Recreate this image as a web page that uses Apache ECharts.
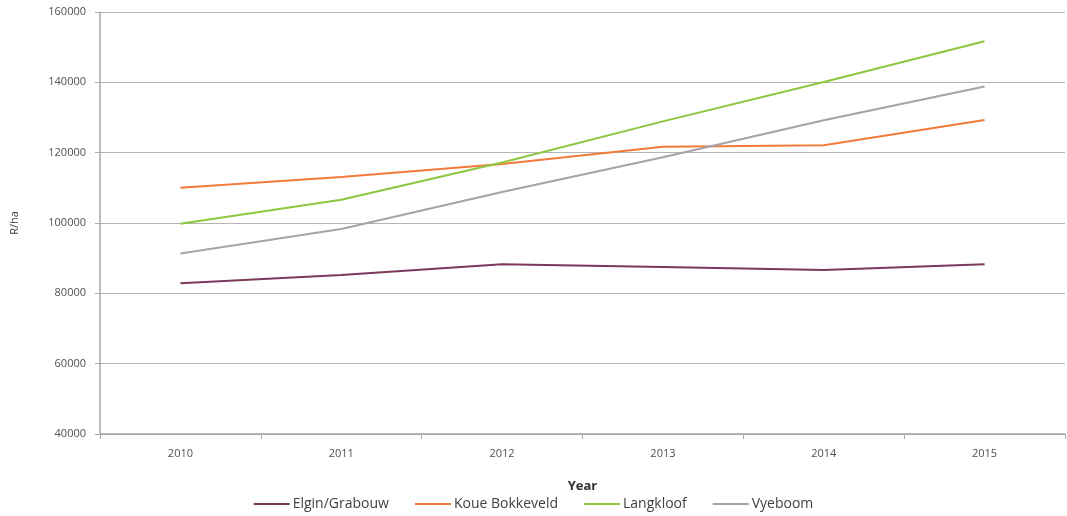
<!DOCTYPE html>
<html><head><meta charset="utf-8">
<script src="https://cdn.jsdelivr.net/npm/echarts@6/dist/echarts.min.js"></script>
<style>html,body{margin:0;padding:0;background:#fff}#c{width:1067px;height:516px}</style>
</head><body><div id="c"></div>
<script>
const years = ['2010','2011','2012','2013','2014','2015'];
const elgin = [82900, 85200, 88300, 87500, 86600, 88300];
const koue = [110000, 113100, 116800, 121700, 122100, 129300];
const langkloof = [99800, 106600, 117200, 128900, 140100, 151700];
const vyeboom = [91300, 98300, 108800, 118700, 129200, 138800];
const seriesNames = ['Elgin/Grabouw','Koue Bokkeveld','Langkloof','Vyeboom'];
const colors = ['#7b3a5c','#f47a3a','#8dc63f','#a3a3ab'];
const data = [elgin, koue, langkloof, vyeboom];
const font = 'Open Sans, sans-serif';
const chart = echarts.init(document.getElementById('c'));
chart.setOption({
  animation: false,
  color: colors,
  grid: {left: 100, right: 2, top: 12, bottom: 82},
  legend: {
    bottom: 0, left: 'center',
    icon: 'rect', itemWidth: 36, itemHeight: 2, itemGap: 26,
    textStyle: {fontFamily: font, fontSize: 14, color: '#404040', padding: [0,0,0,-2]},
    data: seriesNames
  },
  xAxis: {
    type: 'category', data: years, boundaryGap: true,
    name: 'Year', nameLocation: 'middle', nameGap: 46,
    nameTextStyle: {fontFamily: font, fontSize: 13, fontWeight: 'bold', color: '#303030'},
    axisLine: {lineStyle: {color: '#a8a8a8', width: 1.5}},
    axisTick: {show: true, length: 5, lineStyle: {color: '#a8a8a8'}},
    axisLabel: {fontFamily: font, fontSize: 11, color: '#505050', margin: 14}
  },
  yAxis: {
    type: 'value', min: 40000, max: 160000, interval: 20000,
    name: 'R/ha', nameLocation: 'middle', nameGap: 80, nameRotate: 90,
    nameTextStyle: {fontFamily: font, fontSize: 11, color: '#404040'},
    axisLine: {show: true, lineStyle: {color: '#a8a8a8', width: 1.5}},
    axisTick: {show: true, length: 5, lineStyle: {color: '#a8a8a8'}},
    axisLabel: {fontFamily: font, fontSize: 11, color: '#505050', margin: 14,
      formatter: v => String(v)},
    splitLine: {lineStyle: {color: '#b4b4b4', width: 1}}
  },
  series: seriesNames.map((n, i) => ({
    name: n, type: 'line', data: data[i], symbol: 'none',
    lineStyle: {width: 2, color: colors[i]}
  }))
});
</script></body></html>
